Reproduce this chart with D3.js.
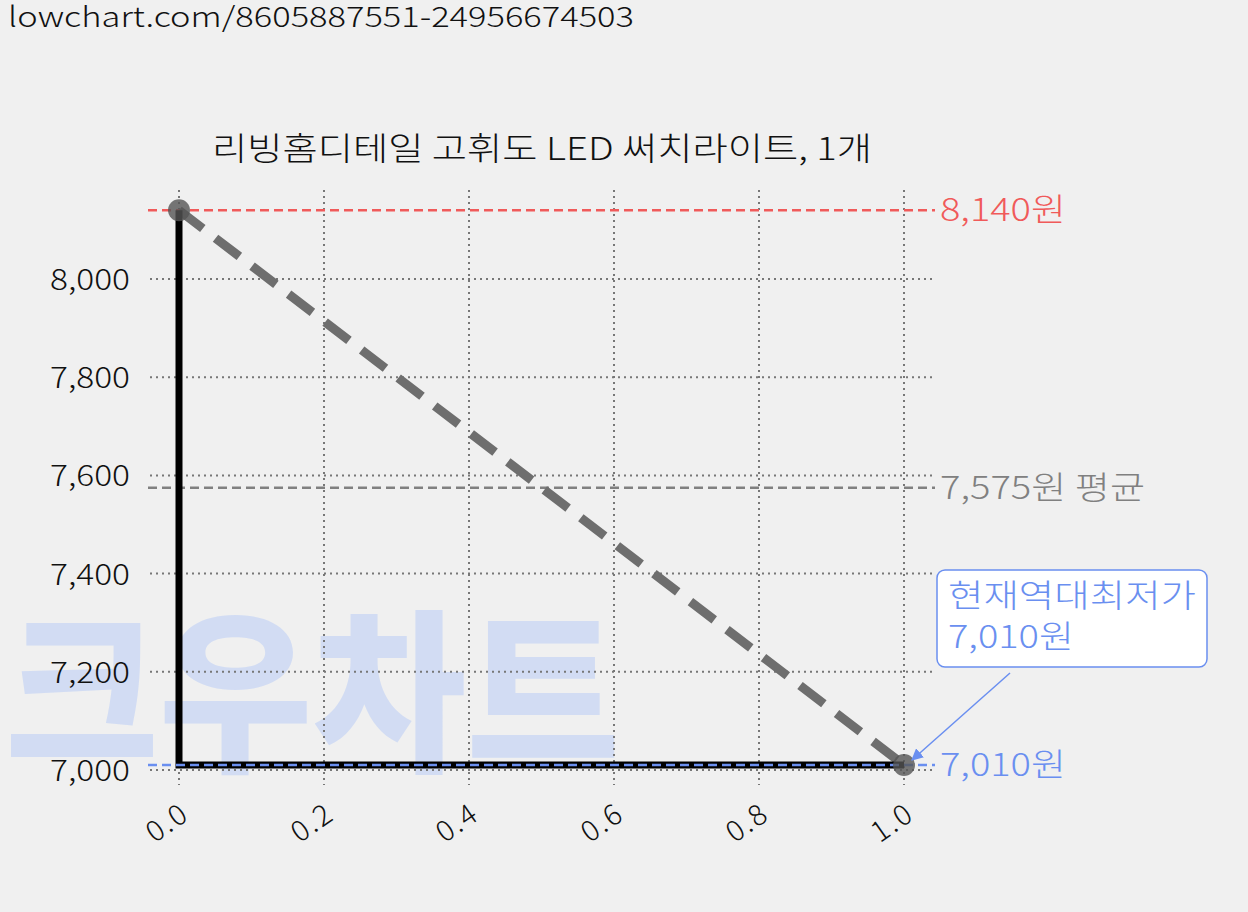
<!DOCTYPE html>
<html><head><meta charset="utf-8">
<script src="https://cdn.jsdelivr.net/npm/d3@7"></script>
<style>body{margin:0;background:#f0f0f0;font-family:Roboto,"Noto Sans CJK KR",sans-serif}</style>
</head><body><svg id="c" width="1248" height="912"></svg>
<script>
const xTicks=[0,0.2,0.4,0.6,0.8,1.0];
const yTicks=[7000,7200,7400,7600,7800,8000];
const stepX=[0,0,1];
const stepY=[8140,7010,7010];
const trendX=[0,1];
const trendY=[8140,7010];
const maxPrice=8140, avgPrice=7575, minPrice=7010;
const title="리빙홈디테일 고휘도 LED 써치라이트, 1개";
const svg=d3.select("#c");
const K='"Noto Sans CJK KR",Roboto,sans-serif';
const T=(x0,y0,s,c,txt,len)=>{const t=svg.append("text").attr("x",x0).attr("y",y0).attr("font-size",s).attr("font-family",K).attr("font-weight",300).attr("fill",c).text(txt);if(len)t.attr("textLength",len).attr("lengthAdjust","spacingAndGlyphs");return t;};
svg.append("rect").attr("width",1248).attr("height",912).attr("fill","#f0f0f0");
T(8,27,28,"#111","lowchart.com/8605887551-24956674503",626);
svg.append("text").attr("x",5).attr("y",758).attr("font-size",175).attr("font-weight",900).attr("font-family",K).attr("fill","#c8d6f5").attr("opacity",0.75).attr("textLength",615).attr("lengthAdjust","spacingAndGlyphs").text("크우차트");
const x=d3.scaleLinear().domain([0,1]).range([179,904]);
const y=d3.scaleLinear().domain([7000,8000]).range([770,279]);
const g=svg.append("g");
yTicks.forEach(t=>{g.append("line").attr("x1",150).attr("x2",932).attr("y1",y(t)).attr("y2",y(t)).attr("stroke","#777").attr("stroke-width",2).attr("stroke-dasharray","2,4");
T(50,y(t)+11,29,"#111",d3.format(",")(t),80);});
xTicks.forEach(t=>{g.append("line").attr("x1",x(t)).attr("x2",x(t)).attr("y1",190).attr("y2",785).attr("stroke","#777").attr("stroke-width",2).attr("stroke-dasharray","2,4");
svg.append("text").attr("transform",`translate(${x(t)+12},${818}) rotate(-35)`).attr("text-anchor","end").attr("font-size",29).attr("font-weight",300).attr("font-family",K).attr("fill","#111").attr("letter-spacing",2).text(t.toFixed(1));});
const ref=(v,c,label,len)=>{g.append("line").attr("x1",148).attr("x2",935).attr("y1",y(v)).attr("y2",y(v)).attr("stroke",c).attr("stroke-width",2.5).attr("stroke-dasharray","9,5");
T(940,y(v)+11,32,c,label,len);};
ref(maxPrice,"#f05a5a","8,140원",126);
ref(avgPrice,"#808080","7,575원 평균",205);
const line=d3.line().x(d=>x(d[0])).y(d=>y(d[1]));
g.append("path").attr("d",line(trendX.map((v,i)=>[v,trendY[i]]))).attr("stroke","#6e6e6e").attr("stroke-width",9).attr("stroke-dasharray","30,16").attr("fill","none");
g.append("path").attr("d",line(stepX.map((v,i)=>[v,stepY[i]]))).attr("stroke","#000").attr("stroke-width",7).attr("fill","none");
ref(minPrice,"#6a8ff0","7,010원",126);
[[0,maxPrice],[1,minPrice]].forEach(p=>g.append("circle").attr("cx",x(p[0])).attr("cy",y(p[1])).attr("r",11).attr("fill","#555").attr("opacity",0.8));
T(212,160,32,"#111",title,660);
svg.append("rect").attr("x",937).attr("y",570).attr("width",270).attr("height",97).attr("rx",8).attr("fill","#fff").attr("stroke","#6a8ff0").attr("stroke-width",1.5);
T(948,607,32,"#6a8ff0","현재역대최저가",248);
T(948,648,32,"#6a8ff0","7,010원",126);
svg.append("defs").append("marker").attr("id","ah").attr("viewBox","0 0 10 10").attr("refX",9).attr("refY",5).attr("markerWidth",8).attr("markerHeight",8).attr("orient","auto").append("path").attr("d","M0,0L10,5L0,10z").attr("fill","#6a8ff0");
svg.append("line").attr("x1",1010).attr("y1",673).attr("x2",912).attr("y2",760).attr("stroke","#6a8ff0").attr("stroke-width",1.5).attr("marker-end","url(#ah)");
</script></body></html>
